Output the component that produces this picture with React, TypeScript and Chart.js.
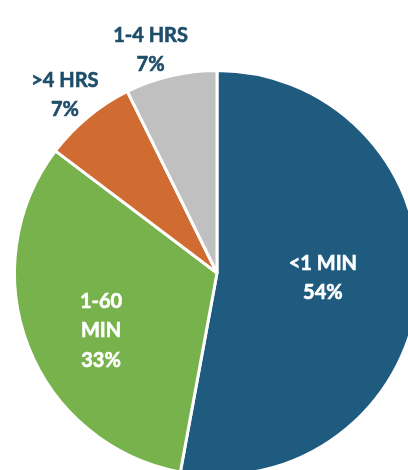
import React, { useEffect, useRef } from "react";
import { Chart, registerables } from "chart.js";

Chart.register(...registerables);

const categories = ["<1 MIN", "1-60 MIN", ">4 HRS", "1-4 HRS"];
const labelLines = [["<1 MIN", "54%"], ["1-60", "MIN", "33%"], [">4 HRS", "7%"], ["1-4 HRS", "7%"]];
const values = [52.9, 32.4, 7.4, 7.3];
const colors = ["#1F5B7E", "#77B24C", "#D06B31", "#C0C0C0"];
const labelColors = ["#FFFFFF", "#FFFFFF", "#1F4E6B", "#1F4E6B"];

const labelRadius = [0.53, 0.65, 1.165, 1.16];
const labelAngleShift = [-2, -5.65, -1.15, -3.5];

const labelPlugin = {
  id: "sliceLabels",
  afterDatasetsDraw(chart: any) {
    const ctx = chart.ctx;
    const meta = chart.getDatasetMeta(0);
    ctx.save();
    ctx.font = "bold 20px Lato";
    ctx.textAlign = "center";
    ctx.textBaseline = "middle";
    meta.data.forEach((arc: any, i: number) => {
      const p = arc.getProps(["x", "y", "startAngle", "endAngle", "outerRadius"], true);
      const mid = (p.startAngle + p.endAngle) / 2 + (labelAngleShift[i] * Math.PI) / 180;
      const r = 200 * labelRadius[i];
      const cx = p.x + Math.cos(mid) * r;
      const cy = p.y + Math.sin(mid) * r - 1;
      const lines = labelLines[i];
      const lh = i < 2 ? 29.5 : 29;
      ctx.fillStyle = labelColors[i];
      ctx.strokeStyle = labelColors[i];
      ctx.lineWidth = 0.6;
      lines.forEach((t, j) => {
        const y = cy + (j - (lines.length - 1) / 2) * lh;
        ctx.fillText(t, cx, y);
        ctx.strokeText(t, cx, y);
      });
    });
    ctx.restore();
  },
};

export default function App() {
  const ref = useRef<HTMLCanvasElement | null>(null);
  useEffect(() => {
    if (!ref.current) return;
    const chart = new Chart(ref.current, {
      type: "pie",
      data: {
        labels: categories,
        datasets: [
          {
            data: values,
            backgroundColor: colors,
            borderColor: "#FFFFFF",
            borderWidth: 3,
          },
        ],
      },
      options: {
        responsive: false,
        animation: false,
        layout: { padding: { left: 13, top: 69, right: 9, bottom: 3 } },
        plugins: { legend: { display: false }, tooltip: { enabled: false } },
      },
      plugins: [labelPlugin],
    });
    return () => chart.destroy();
  }, []);
  return (
    <div style={{ position: "fixed", left: 0, top: 0, width: 408, height: 470, overflow: "hidden", background: "#fff" }}>
      <canvas ref={ref} width={430} height={480} style={{ display: "block" }} />
    </div>
  );
}
